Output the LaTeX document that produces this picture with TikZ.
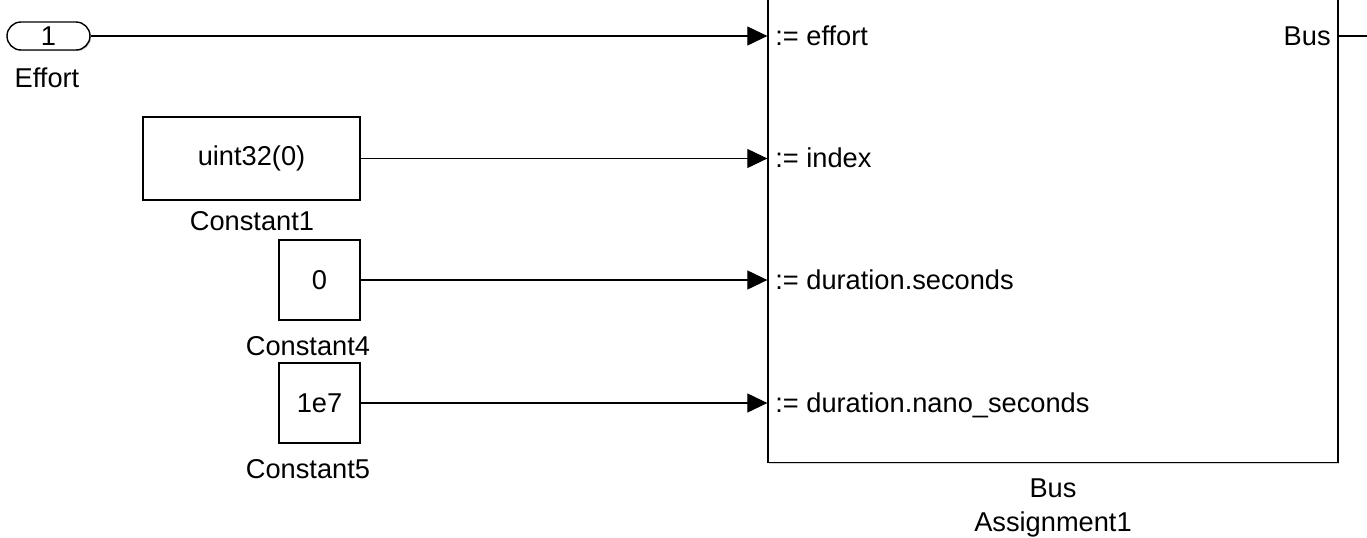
\documentclass[tikz,border=0pt]{standalone}
\usepackage{fontspec}
\setmainfont{Liberation Sans}
\usetikzlibrary{arrows.meta, positioning, calc, shadows}

\begin{document}
\begin{tikzpicture}[x=0.02cm, y=-0.02cm, >={Triangle[length=0.4cm, width=0.38cm]},
                    every node/.style={font=\fontsize{15.5pt}{18pt}\selectfont},
                    blk/.style={draw, line width=0.8pt, fill=white, inner sep=0pt,
                      drop shadow={shadow xshift=0.7pt, shadow yshift=-0.7pt, opacity=0.35}},
                    lbl/.style={anchor=base},
                    sig/.style={line width=0.6pt}]
  \useasboundingbox (0,0) rectangle (1367,538);
  \clip (0,0) rectangle (1367,538);
  % sources
  \node[blk, rounded corners=0.28cm, minimum width=1.66cm, minimum height=0.56cm] (in1) at (48.5,36) {1};
  \node[lbl] (in1lbl) at (47,87) {Effort};
  \node[blk, minimum width=4.34cm, minimum height=1.66cm] (c1) at (251.5,158.5) {uint32(0)};
  \node[lbl] (c1lbl) at (252,230) {Constant1};
  \node[blk, minimum width=1.62cm, minimum height=1.6cm] (c4) at (319.5,280) {0};
  \node[lbl] (c4lbl) at (308,355) {Constant4};
  \node[blk, minimum width=1.62cm, minimum height=1.6cm] (c5) at (319.5,403) {1e7};
  \node[lbl] (c5lbl) at (308,478) {Constant5};
  % bus assignment block
  \node[blk, minimum width=11.4cm, minimum height=9.7cm] (ba) at (1053,220) {};
  \node[lbl] (balbl1) at (1053,497) {Bus};
  \node[lbl] (balbl2) at (1053,531) {Assignment1};
  \node[anchor=base west, inner sep=0pt] (p1) at (775,45.5) {:= effort};
  \node[anchor=base west, inner sep=0pt] (p2) at (775,167.5) {:= index};
  \node[anchor=base west, inner sep=0pt] (p3) at (775,289.5) {:= duration.seconds};
  \node[anchor=base west, inner sep=0pt] (p4) at (775,412.5) {:= duration.nano\_seconds};
  \node[anchor=base east, inner sep=0pt] (pout) at (1331,45.5) {Bus};
  % signals
  \draw[sig, ->] (in1.east) -- (in1.east -| ba.west);
  \draw[sig, ->] (c1.east) -- (c1.east -| ba.west);
  \draw[sig, ->] (c4.east) -- (c4.east -| ba.west);
  \draw[sig, ->] (c5.east) -- (c5.east -| ba.west);
  \coordinate (busout) at (1380,36);
  \draw[sig] (ba.east |- in1.east) -- (busout);
\end{tikzpicture}
\end{document}
